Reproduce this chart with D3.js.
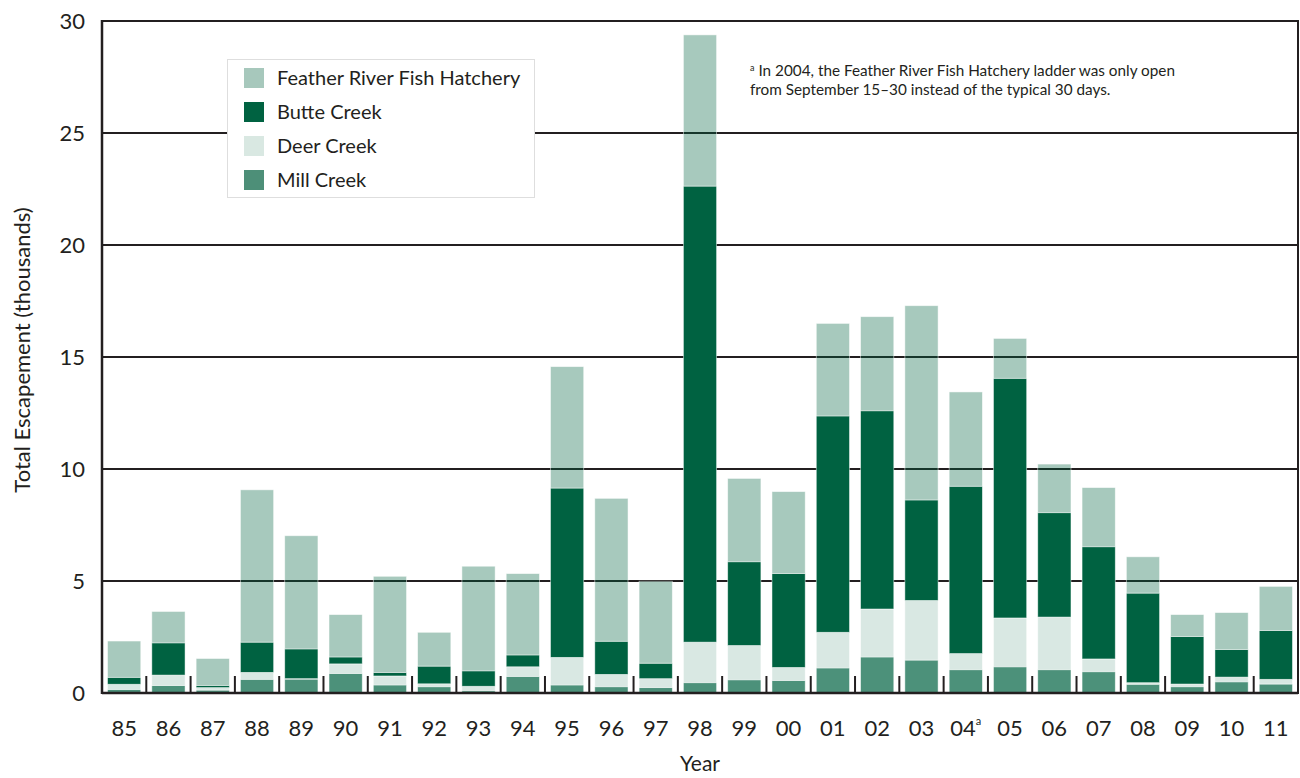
<!DOCTYPE html>
<html>
<head>
<meta charset="utf-8">
<script src="https://cdn.jsdelivr.net/npm/d3@7"></script>
<style>
  body { margin: 0; background: #fff; }
  text { font-family: Lato, "Noto Sans", sans-serif; fill: #231f20; }
</style>
</head>
<body>
<div id="my_dataviz"></div>
<script>
// data (thousands of fish)
var years = ["85","86","87","88","89","90","91","92","93","94","95","96","97","98","99","00","01","02","03","04","05","06","07","08","09","10","11"];
var millCreek  = [0.16,0.33,0.13,0.61,0.62,0.87,0.36,0.28,0.10,0.74,0.36,0.28,0.24,0.46,0.59,0.56,1.12,1.61,1.47,1.04,1.17,1.04,0.95,0.39,0.28,0.50,0.40];
var deerCreek  = [0.23,0.47,0.11,0.31,0.02,0.43,0.40,0.13,0.20,0.43,1.23,0.55,0.40,1.81,1.53,0.58,1.59,2.14,2.66,0.72,2.18,2.35,0.57,0.07,0.12,0.21,0.21];
var butteCreek = [0.31,1.44,0.10,1.35,1.33,0.31,0.16,0.79,0.69,0.53,7.56,1.48,0.69,20.36,3.74,4.19,9.66,8.85,4.49,7.47,10.70,4.66,5.01,4.00,2.12,1.23,2.18];
var hatchery   = [1.62,1.40,1.20,6.80,5.05,1.89,4.29,1.51,4.67,3.63,5.42,6.38,3.66,6.75,3.72,3.66,4.13,4.20,8.67,4.21,1.78,2.17,2.64,1.62,0.98,1.65,1.97];
var yTicks = [0, 5, 10, 15, 20, 25, 30];

// stack order bottom to top
var seriesKeys = ["mill", "deer", "butte", "hatchery"];
var seriesNames = {hatchery: "Feather River Fish Hatchery", butte: "Butte Creek", deer: "Deer Creek", mill: "Mill Creek"};
// all tints of one green
var base = "#006241";
var opac = {hatchery: 0.345, butte: 1, deer: 0.15, mill: 0.7};
var solid = {hatchery: "#a7c8bc", butte: "#006241", deer: "#d9e8e2", mill: "#4d8f78"};

var rows = years.map(function(y, i) {
  return {year: y, mill: millCreek[i], deer: deerCreek[i], butte: butteCreek[i], hatchery: hatchery[i]};
});

var W = 1300, H = 778;
// plot area (note: "top" is taken by window.top, so prefix these)
var pLeft = 102, pRight = 1298, pTop = 21, pBottom = 693;

var svg = d3.select("#my_dataviz")
  .append("svg")
  .attr("width", W)
  .attr("height", H);

var x = d3.scaleBand()
  .domain(years)
  .range([pLeft, pRight])
  .paddingInner(0.25)
  .paddingOuter(0.125);

var y = d3.scaleLinear()
  .domain([0, 30])
  .range([pBottom, pTop]);

// gridlines
svg.append("g")
  .selectAll("line")
  .data(yTicks.filter(function(d) { return d > 0; }))
  .enter()
  .append("line")
    .attr("x1", pLeft)
    .attr("x2", pRight)
    .attr("y1", function(d) { return y(d); })
    .attr("y2", function(d) { return y(d); })
    .style("stroke", "#231f20")
    .style("stroke-width", 2);

// stacked bars
var stack = d3.stack().keys(seriesKeys);
var layers = stack(rows);

svg.append("g")
  .selectAll("g")
  .data(layers)
  .enter()
  .append("g")
    .style("fill", base)
    .style("fill-opacity", function(d) { return opac[d.key]; })
  .selectAll("rect")
  .data(function(d) { return d; })
  .enter()
  .append("rect")
    .attr("x", function(d) { return x(d.data.year); })
    .attr("width", x.bandwidth())
    .attr("y", function(d) { return y(d[1]); })
    .attr("height", function(d) { return y(d[0]) - y(d[1]); })
    .style("stroke", "#fff")
    .style("stroke-opacity", 0.6)
    .style("stroke-width", 0.8);

// y axis labels
var yAxis = d3.axisLeft(y).tickValues(yTicks).tickSize(0).tickPadding(17);
var yg = svg.append("g")
  .attr("transform", "translate(" + pLeft + ",0)")
  .call(yAxis);
yg.select(".domain").remove();
yg.selectAll("text")
  .style("font-family", "Lato, sans-serif")
  .style("font-size", "22px")
  .style("fill", "#231f20");

// frame: left, bottom, right
svg.append("line")
  .attr("x1", pLeft).attr("x2", pLeft).attr("y1", pTop - 1).attr("y2", pBottom + 1)
  .style("stroke", "#231f20").style("stroke-width", 2.5);
svg.append("line")
  .attr("x1", pRight).attr("x2", pRight).attr("y1", pTop - 1).attr("y2", pBottom + 1)
  .style("stroke", "#231f20").style("stroke-width", 2);
svg.append("line")
  .attr("x1", pLeft).attr("x2", pRight).attr("y1", pBottom).attr("y2", pBottom)
  .style("stroke", "#231f20").style("stroke-width", 2.5);

// separator ticks between years
var half = x.step() * x.paddingInner() / 2;
svg.append("g")
  .selectAll("line")
  .data(years.slice(1))
  .enter()
  .append("line")
    .attr("x1", function(d) { return x(d) - half; })
    .attr("x2", function(d) { return x(d) - half; })
    .attr("y1", pBottom - 17)
    .attr("y2", pBottom)
    .style("stroke", "#231f20")
    .style("stroke-width", 2);

// x labels
var xl = svg.append("g")
  .selectAll("text")
  .data(years)
  .enter()
  .append("text")
    .attr("x", function(d) { return x(d) + x.bandwidth() / 2; })
    .attr("y", 736)
    .attr("text-anchor", "middle")
    .style("font-size", "22px")
    .text(function(d) { return d; });
xl.filter(function(d) { return d === "04"; })
  .append("tspan")
    .attr("dy", -11)
    .style("font-size", "11px")
    .text("a");

// axis titles
svg.append("text")
  .attr("x", (pLeft + pRight) / 2)
  .attr("y", 771)
  .attr("text-anchor", "middle")
  .style("font-size", "21px")
  .text("Year");

svg.append("text")
  .attr("transform", "translate(30," + 350 + ") rotate(-90)")
  .attr("text-anchor", "middle")
  .style("font-size", "22px")
  .text("Total Escapement (thousands)");

// legend
var legendOrder = ["hatchery", "butte", "deer", "mill"];
var lg = svg.append("g");
lg.append("rect")
  .attr("x", 227.5).attr("y", 59.5)
  .attr("width", 307).attr("height", 138)
  .style("fill", "#fff")
  .style("stroke", "#dedede")
  .style("stroke-width", 1);
var item = lg.selectAll("g")
  .data(legendOrder)
  .enter()
  .append("g")
    .attr("transform", function(d, i) { return "translate(244," + (78 + i * 34) + ")"; });
item.append("rect")
  .attr("x", 0).attr("y", -10)
  .attr("width", 20).attr("height", 20)
  .style("fill", function(d) { return solid[d]; });
item.append("text")
  .attr("x", 33)
  .attr("y", 7)
  .style("font-size", "20px")
  .text(function(d) { return seriesNames[d]; });

// footnote
var note = svg.append("text")
  .attr("x", 750)
  .attr("y", 76)
  .style("font-size", "15.3px");
note.append("tspan").style("font-size", "9px").attr("dy", -5).text("a");
note.append("tspan").attr("dy", 5).text(" In 2004, the Feather River Fish Hatchery ladder was only open");
svg.append("text")
  .attr("x", 750)
  .attr("y", 95)
  .style("font-size", "15.3px")
  .text("from September 15\u201330 instead of the typical 30 days.");
</script>
</body>
</html>
